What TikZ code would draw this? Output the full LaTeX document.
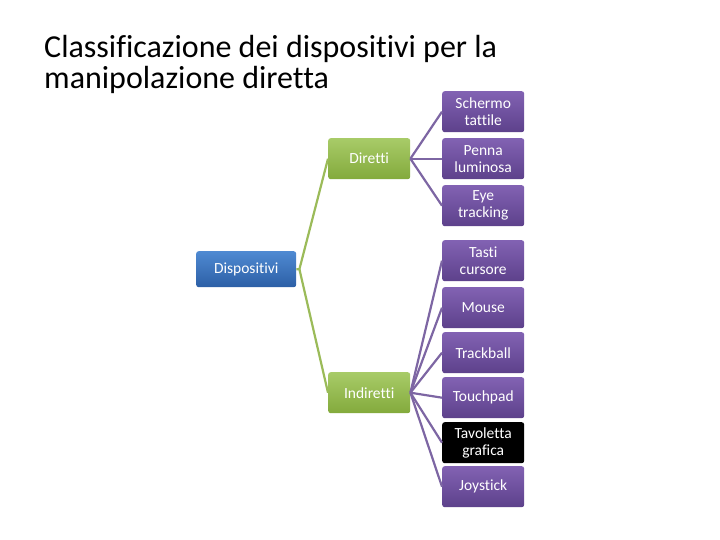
\documentclass[tikz,border=0pt]{standalone}
\usepackage{fontspec}
\setmainfont[Ligatures=NoCommon]{Carlito}
\definecolor{bluetop}{HTML}{4F8AD2}
\definecolor{bluebot}{HTML}{2C5FA6}
\definecolor{greentop}{HTML}{A8CB68}
\definecolor{greenbot}{HTML}{83AA3C}
\definecolor{purtop}{HTML}{8262B3}
\definecolor{purbot}{HTML}{5D418B}
\definecolor{gline}{HTML}{9BBB59}
\definecolor{pline}{HTML}{7D66A3}
\tikzset{
  box/.style={rounded corners=2.5pt, minimum height=40pt, inner sep=1pt, align=center,
    text=white, font=\fontsize{15.5}{17}\selectfont, anchor=north west},
  bluebox/.style={box, top color=bluetop, bottom color=bluebot, minimum width=100pt, minimum height=36pt},
  greenbox/.style={box, top color=greentop, bottom color=greenbot, minimum width=82pt, minimum height=41pt},
  purbox/.style={box, top color=purtop, bottom color=purbot, minimum width=82pt, minimum height=41pt},
  blackbox/.style={box, fill=black, minimum width=82pt, minimum height=41pt},
  gconn/.style={draw=gline, line width=2.2pt},
  pconn/.style={draw=pline, line width=2.2pt},
  titletext/.style={anchor=base west, font=\fontsize{32}{38}\selectfont, inner sep=0pt},
}
\begin{document}
\begin{tikzpicture}[x=1pt,y=-1pt]
\useasboundingbox (0,0) rectangle (720,540);
\node[titletext] (title1) at (44,58) {Classificazione dei dispositivi per la};
\node[titletext] (title2) at (44,89) {manipolazione diretta};
\node[bluebox] (disp) at (196,251) {Dispositivi};
\node[greenbox] (dir) at (328,138) {Diretti};
\node[greenbox] (ind) at (328,372) {Indiretti};
\node[purbox] (sch) at (442,91) {Schermo\\tattile};
\node[purbox] (pen) at (442,138) {Penna\\luminosa};
\node[purbox] (eye) at (442,185) {Eye\\tracking};
\node[purbox] (tas) at (442,240) {Tasti\\cursore};
\node[purbox] (mou) at (442,287) {Mouse};
\node[purbox] (tra) at (442,332) {Trackball};
\node[purbox] (tou) at (442,377) {Touchpad};
\node[blackbox] (tav) at (442,422) {Tavoletta\\grafica};
\node[purbox] (joy) at (442,466) {Joystick};
\coordinate (dj) at ([xshift=3pt]disp.east);
\draw[gconn] (disp.east) -- (dj) -- (dir.west);
\draw[gconn] (dj) -- (ind.west);
\foreach \c in {sch,pen,eye} \draw[pconn] (dir.east) -- (\c.west);
\foreach \c in {tas,mou,tra,tou,tav,joy} \draw[pconn] (ind.east) -- (\c.west);
\end{tikzpicture}
\end{document}
